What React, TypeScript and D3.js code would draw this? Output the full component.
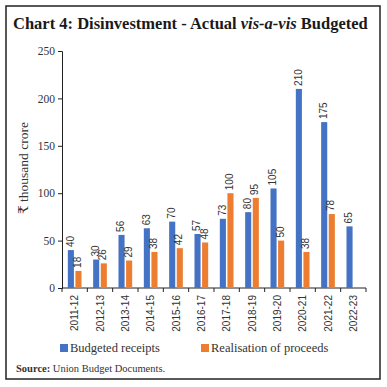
import { useRef, useEffect } from 'react'
import * as d3 from 'd3'

const years = ['2011-12', '2012-13', '2013-14', '2014-15', '2015-16', '2016-17', '2017-18', '2018-19', '2019-20', '2020-21', '2021-22', '2022-23']
const budgeted = [40, 30, 56, 63, 70, 57, 73, 80, 105, 210, 175, 65]
const realised: (number | null)[] = [18, 26, 29, 38, 42, 48, 100, 95, 50, 38, 78, null]
const yTicks = [0, 50, 100, 150, 200, 250]

const BLUE = '#4472C4'
const ORANGE = '#ED7D31'
const SERIF = '"Liberation Serif", "DejaVu Serif", serif'
const SANS = '"Liberation Sans", Arial, sans-serif'

const App = () => {
  const svgRef = useRef<SVGSVGElement>(null)

  useEffect(() => {
    if (!svgRef.current) return
    const width = 387
    const height = 387
    const svg = d3.select(svgRef.current)
    svg.selectAll('*').remove()
    svg.attr('width', width).attr('height', height)

    svg.append('rect')
      .attr('x', 6).attr('y', 6)
      .attr('width', 374).attr('height', 373)
      .attr('fill', 'white')
      .attr('stroke', '#222')
      .attr('stroke-width', 1.5)

    // title, "vis-a-vis" in italics
    const title = svg.append('text')
      .attr('x', 13).attr('y', 29)
      .attr('font-family', SERIF)
      .attr('font-size', 16.5)
      .attr('font-weight', 'bold')
      .attr('fill', '#1a1a1a')
    title.append('tspan').text('Chart 4: Disinvestment - Actual ')
    title.append('tspan').attr('font-style', 'italic').text('vis-a-vis')
    title.append('tspan').text(' Budgeted')

    const left = 62, right = 366, top = 51, bottom = 288

    const x = d3.scaleBand<string>().domain(years).range([left, right])
    const bw = x.bandwidth()
    const xs = d3.scaleBand<string>()
      .domain(['b', 'r'])
      .range([bw * 0.23, bw * 0.77])
      .paddingInner(0.2)

    const y = d3.scaleLinear().domain([0, 250]).range([bottom, top])

    const g = svg.append('g')

    // y axis
    const yAxis = g.append('g')
      .attr('transform', `translate(${left},0)`)
      .call(d3.axisLeft(y).tickValues(yTicks).tickSize(4).tickSizeOuter(4))
    yAxis.selectAll('path, line').attr('stroke', '#222')
    yAxis.selectAll('text')
      .attr('font-family', SERIF)
      .attr('font-size', 11.5)
      .attr('fill', '#333')
      .attr('x', -7)

    // x axis with ticks between categories
    const xAxis = g.append('g').attr('transform', `translate(0,${bottom})`)
    xAxis.append('line')
      .attr('x1', left).attr('x2', right)
      .attr('stroke', '#222')
    xAxis.selectAll('.tk')
      .data(years.concat(['end']))
      .join('line')
      .attr('class', 'tk')
      .attr('x1', (d, i) => (i < years.length ? (x(d) as number) : right))
      .attr('x2', (d, i) => (i < years.length ? (x(d) as number) : right))
      .attr('y1', 0).attr('y2', 4)
      .attr('stroke', '#222')
    xAxis.selectAll('.lbl')
      .data(years)
      .join('text')
      .attr('class', 'lbl')
      .attr('transform', d => `translate(${(x(d) as number) + bw / 2 + 1},7) rotate(-90)`)
      .attr('text-anchor', 'end')
      .attr('dominant-baseline', 'middle')
      .attr('font-family', SANS)
      .attr('font-size', 10)
      .attr('fill', '#333')
      .text(d => d)

    const series = [
      { key: 'b', values: budgeted as (number | null)[], color: BLUE },
      { key: 'r', values: realised, color: ORANGE },
    ]

    series.forEach(s => {
      const pts = years
        .map((yr, i) => ({ yr, v: s.values[i] }))
        .filter(p => p.v !== null) as { yr: string; v: number }[]
      const px = (p: { yr: string }) => (x(p.yr) as number) + (xs(s.key) as number)

      g.selectAll(`.bar-${s.key}`)
        .data(pts)
        .join('rect')
        .attr('class', `bar-${s.key}`)
        .attr('x', px)
        .attr('y', p => y(p.v))
        .attr('width', xs.bandwidth())
        .attr('height', p => bottom - y(p.v))
        .attr('fill', s.color)

      g.selectAll(`.val-${s.key}`)
        .data(pts)
        .join('text')
        .attr('class', `val-${s.key}`)
        .attr('transform', p => `translate(${px(p) + xs.bandwidth() / 2},${y(p.v) - 3}) rotate(-90)`)
        .attr('text-anchor', 'start')
        .attr('dominant-baseline', 'middle')
        .attr('font-family', SANS)
        .attr('font-size', 10)
        .attr('fill', '#333')
        .text(p => p.v)
    })

    svg.append('text')
      .attr('transform', 'translate(25,168) rotate(-90)')
      .attr('text-anchor', 'middle')
      .attr('dominant-baseline', 'middle')
      .attr('font-family', SERIF)
      .attr('font-size', 13.5)
      .attr('fill', '#333')
      .text('₹ thousand crore')

    // legend
    const legend = [
      { label: 'Budgeted receipts', color: BLUE, x: 60 },
      { label: 'Realisation of proceeds', color: ORANGE, x: 201 },
    ]
    legend.forEach(l => {
      svg.append('rect')
        .attr('x', l.x).attr('y', 344)
        .attr('width', 8).attr('height', 8)
        .attr('fill', l.color)
      svg.append('text')
        .attr('x', l.x + 10).attr('y', 352)
        .attr('font-family', SERIF)
        .attr('font-size', 12.5)
        .attr('fill', '#333')
        .text(l.label)
    })

    const src = svg.append('text')
      .attr('x', 16).attr('y', 372)
      .attr('font-family', SERIF)
      .attr('font-size', 10.5)
      .attr('fill', '#333')
    src.append('tspan').attr('font-weight', 'bold').text('Source:')
    src.append('tspan').text(' Union Budget Documents.')
  }, [])

  return (
    <div style={{ position: 'absolute', left: 0, top: 0 }}>
      <svg ref={svgRef} />
    </div>
  )
}

export default App
